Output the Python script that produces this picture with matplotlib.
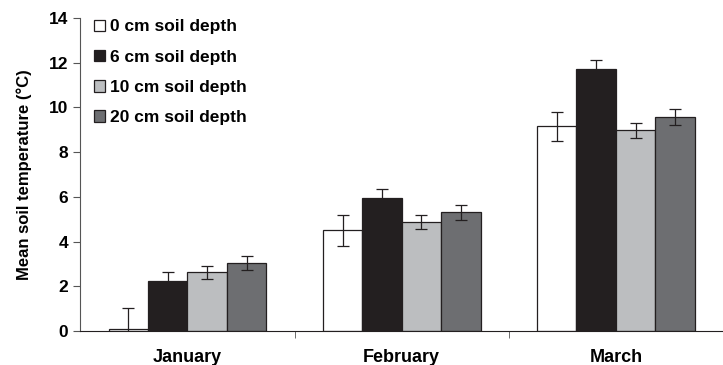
import numpy as np
import matplotlib.pyplot as plt

plt.rcParams['font.family'] = ['Liberation Sans', 'DejaVu Sans']

months = ['January', 'February', 'March']
labels = ['0 cm soil depth', '6 cm soil depth', '10 cm soil depth', '20 cm soil depth']

# mean soil temperature (°C) per depth, one value per month
t0 = [0.1, 4.5, 9.15]
t6 = [2.25, 5.95, 11.7]
t10 = [2.62, 4.89, 8.97]
t20 = [3.03, 5.31, 9.56]

# error bars
e0 = [0.95, 0.7, 0.65]
e6 = [0.37, 0.38, 0.42]
e10 = [0.3, 0.31, 0.32]
e20 = [0.32, 0.33, 0.36]

colors = ['#ffffff', '#231f20', '#bcbec0', '#6d6e71']

fig = plt.figure(figsize=(7.23, 3.65), dpi=100)
ax = fig.add_axes([0.111, 0.093, 0.895, 0.858])

x = np.arange(len(months))
w = 0.184
data = [t0, t6, t10, t20]
errs = [e0, e6, e10, e20]
for i in range(4):
    pos = x + (i - 1.5) * w
    ax.bar(pos, data[i], w, color=colors[i], edgecolor='#231f20', linewidth=0.9,
           label=labels[i], zorder=2)
    ax.errorbar(pos, data[i], yerr=errs[i], fmt='none', ecolor='#231f20',
                elinewidth=0.9, capsize=4, capthick=0.9, zorder=3)

ax.set_xlim(-0.5, 2.52)
ax.set_ylim(0, 14)
ax.set_yticks(range(0, 15, 2))
ax.set_xticks(x)
ax.set_xticklabels(months, fontsize=13, fontweight='bold')
ax.set_xticks([0.5, 1.5], minor=True)
ax.tick_params(axis='x', which='major', length=0, pad=13)
ax.tick_params(axis='x', which='minor', length=5, direction='out', color='#555555')
ax.tick_params(axis='y', length=5, direction='out', labelsize=12.5, color='#555555')
for t in ax.get_yticklabels():
    t.set_fontweight('bold')
ax.set_ylabel('Mean soil temperature (°C)', fontsize=12, fontweight='bold', labelpad=12)

for s in ['top', 'right']:
    ax.spines[s].set_visible(False)
ax.spines['left'].set_color('#555555')
ax.spines['bottom'].set_color('#231f20')

leg = ax.legend(loc='upper left', bbox_to_anchor=(-0.003, 1.045), frameon=False,
                prop={'size': 12.5, 'weight': 'bold'}, handlelength=0.65, handleheight=0.65,
                handletextpad=0.25, labelspacing=0.88)

plt.savefig('out.png', dpi=100)
